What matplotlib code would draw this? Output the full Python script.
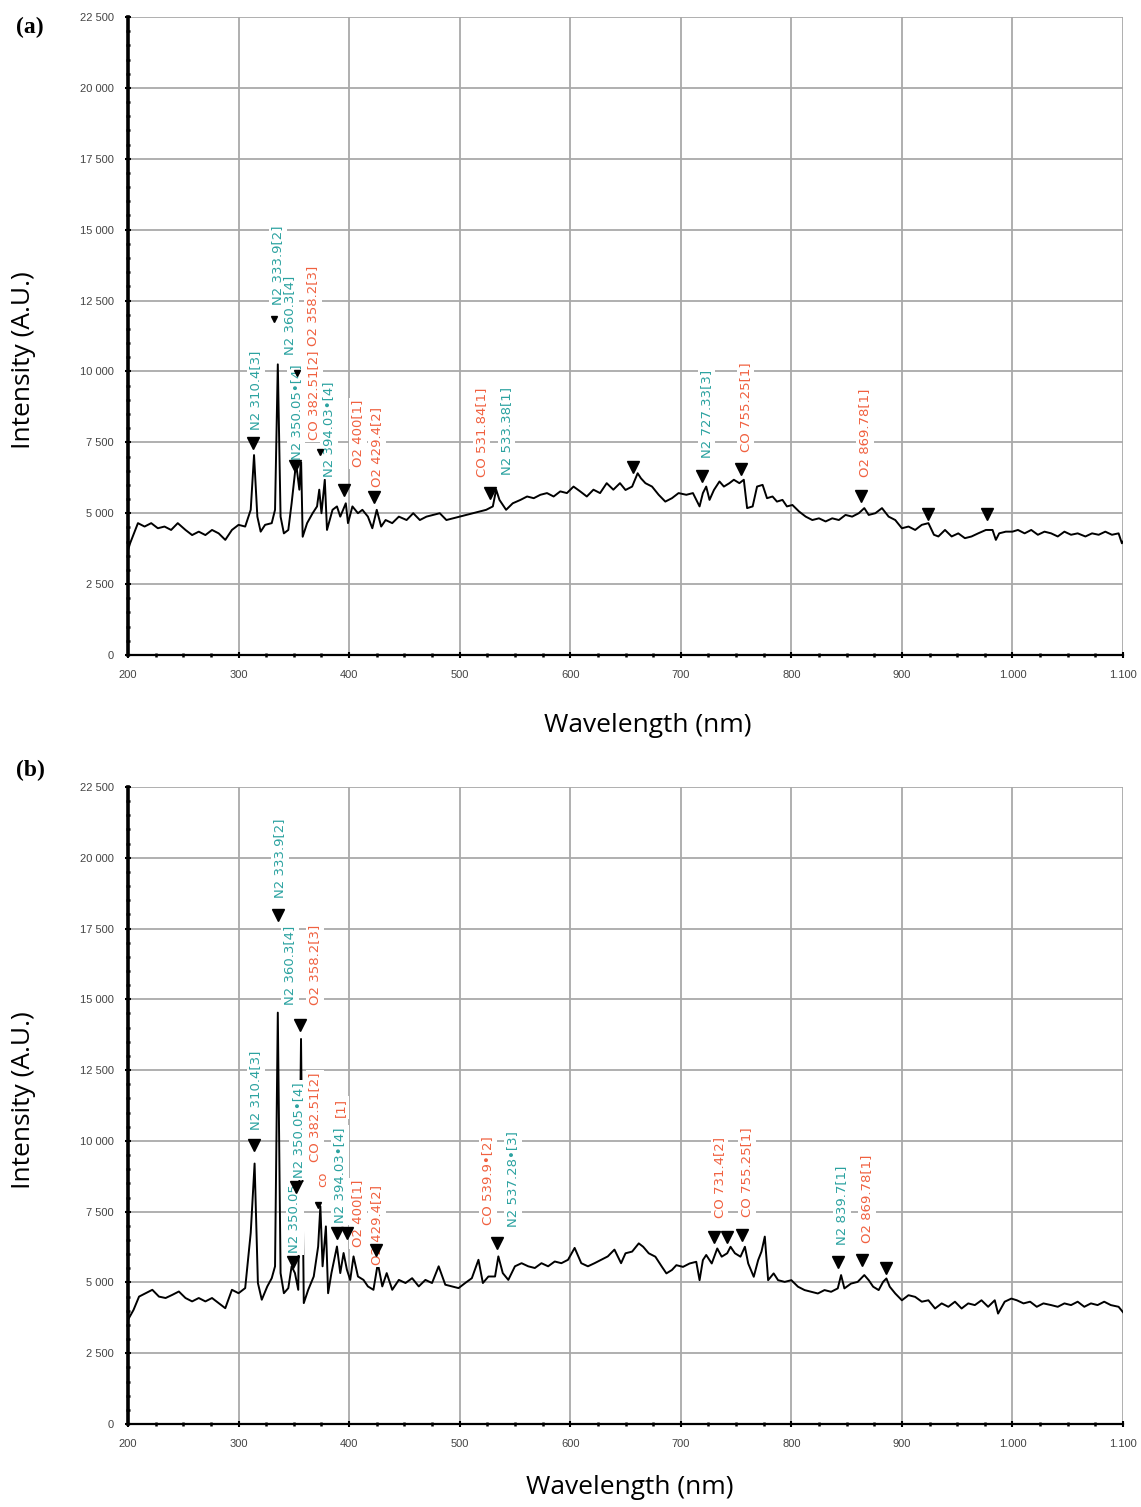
import matplotlib
matplotlib.use("Agg")
import matplotlib.pyplot as plt
from matplotlib.ticker import MultipleLocator, FuncFormatter

# ---- spectrum (a) ----
wl_a = [200, 202, 209, 215, 221, 227, 233, 239, 245, 252, 258, 264, 270, 276, 282, 288, 294, 300, 306, 311,
        314, 317, 320, 324, 330, 333, 335.5, 338, 341, 345, 348, 352, 355, 356.5, 358, 362, 367, 371, 373, 375,
        378, 380, 385, 389, 392, 397, 399, 403, 408, 412, 417, 421, 425, 429, 433, 439, 445, 452, 458, 464,
        470, 476, 482, 488, 494, 500, 506, 512, 518, 524, 530, 533, 536, 542, 548, 555, 561, 567, 573, 579,
        585, 591, 597, 603, 609, 615, 621, 627, 633, 639, 645, 650, 656, 661, 664, 668, 674, 680, 686, 692,
        698, 705, 711, 717, 720, 723, 726, 730, 735, 739, 744, 748, 753, 757, 760, 765, 769, 774, 778, 783,
        787, 792, 796, 801, 807, 813, 819, 825, 831, 837, 843, 849, 855, 861, 866, 870, 876, 882, 888, 894,
        900, 906, 912, 918, 924, 929, 933, 939, 945, 951, 957, 963, 969, 976, 982, 985, 988, 994, 1000, 1005,
        1011, 1017, 1023, 1029, 1035, 1041, 1047, 1053, 1059, 1066, 1072, 1078, 1084, 1090, 1096, 1099, 1100]
int_a = [3700, 3950, 4650, 4530, 4650, 4470, 4530, 4410, 4650, 4410, 4230, 4350, 4230, 4410, 4290, 4060, 4410, 4590, 4530, 5120,
         7050, 4880, 4350, 4590, 4650, 5120, 10250, 4880, 4290, 4410, 5350, 6770, 5830, 7000, 4170, 4650, 5000, 5240, 5830, 5000,
         6180, 4410, 5120, 5240, 4880, 5350, 4650, 5240, 5000, 5120, 4880, 4470, 5120, 4530, 4760, 4650, 4880, 4760, 5000, 4760,
         4880, 4940, 5000, 4760, 4820, 4880, 4940, 5000, 5060, 5120, 5240, 5830, 5470, 5120, 5350, 5470, 5590, 5530, 5650, 5710,
         5590, 5770, 5710, 5940, 5770, 5590, 5830, 5710, 6060, 5830, 6060, 5820, 5940, 6410, 6230, 6060, 5940, 5650, 5410, 5530,
         5710, 5650, 5710, 5240, 5710, 5940, 5470, 5820, 6120, 5940, 6060, 6180, 6060, 6180, 5180, 5240, 5940, 6000, 5530, 5590,
         5410, 5470, 5240, 5290, 5060, 4880, 4760, 4820, 4710, 4820, 4760, 4940, 4880, 5000, 5180, 4940, 5000, 5180, 4880, 4760,
         4470, 4530, 4410, 4590, 4650, 4240, 4180, 4410, 4180, 4290, 4120, 4180, 4290, 4410, 4410, 4060, 4290, 4350, 4350, 4410,
         4290, 4410, 4240, 4350, 4290, 4180, 4350, 4240, 4290, 4180, 4290, 4240, 4350, 4240, 4290, 3940, 4000]

# ---- spectrum (b) ----
wl_b = [200, 205, 210, 216, 222, 228, 234, 240, 246, 252, 258, 264, 270, 276, 282, 288, 294, 300, 306, 311,
        314.5, 317.5, 321, 326, 330, 333, 335.5, 338, 341, 345, 348, 351, 354, 356.5, 359, 363, 368, 372, 374, 376,
        379, 381, 384, 389, 392, 395, 398, 401, 404, 408, 413, 417, 422, 426, 430, 434, 439, 445, 451, 457,
        463, 469, 475, 481, 487, 493, 499, 505, 511, 517, 521, 526, 532, 535, 539, 544, 550, 556, 562, 568,
        574, 580, 586, 592, 598, 604, 610, 616, 622, 628, 634, 640, 646, 650, 656, 662, 666, 671, 677, 683,
        687, 692, 696, 702, 708, 714, 717, 720, 723, 728, 733, 737, 742, 745, 749, 754, 758, 761, 766, 770,
        773, 776, 779, 784, 788, 794, 800, 806, 812, 818, 824, 830, 836, 842, 845, 848, 854, 860, 866, 870,
        874, 879, 883, 886, 889, 894, 900, 906, 912, 918, 924, 930, 936, 942, 948, 954, 960, 966, 972, 978,
        984, 987, 993, 999, 1004, 1010, 1016, 1022, 1028, 1035, 1041, 1047, 1053, 1059, 1065, 1071, 1077, 1083, 1089, 1096, 1100]
int_b = [3680, 4030, 4500, 4620, 4740, 4500, 4450, 4560, 4680, 4450, 4330, 4450, 4330, 4450, 4270, 4090, 4740, 4620, 4800, 6750,
         9200, 4980, 4390, 4860, 5150, 5570, 14530, 5330, 4620, 4800, 5570, 5330, 4740, 13600, 4270, 4740, 5210, 6270, 7690, 5570,
         6980, 4620, 5330, 6270, 5330, 6040, 5450, 5090, 5920, 5210, 5090, 4860, 4740, 5680, 4860, 5330, 4740, 5090, 4980, 5150,
         4860, 5090, 4980, 5570, 4920, 4860, 4800, 4980, 5150, 5800, 4980, 5210, 5210, 5920, 5330, 5090, 5570, 5680, 5570, 5510,
         5680, 5570, 5740, 5680, 5800, 6220, 5680, 5570, 5680, 5800, 5920, 6160, 5680, 6030, 6090, 6380, 6260, 6030, 5910, 5550,
         5320, 5440, 5610, 5550, 5670, 5730, 5080, 5790, 5970, 5670, 6200, 5910, 6030, 6260, 6030, 5910, 6260, 5670, 5200, 5790,
         6090, 6620, 5080, 5320, 5080, 5020, 5080, 4850, 4730, 4670, 4610, 4730, 4670, 4790, 5260, 4790, 4960, 5020, 5260, 5080,
         4850, 4730, 5020, 5140, 4850, 4610, 4370, 4550, 4490, 4320, 4370, 4080, 4260, 4140, 4320, 4080, 4260, 4200, 4370, 4140,
         4370, 3900, 4320, 4430, 4370, 4260, 4320, 4140, 4260, 4200, 4140, 4260, 4200, 4320, 4140, 4260, 4200, 4320, 4200, 4140, 3950]

# peak markers (wavelength, intensity)
mk_a_wl = [313, 350.8, 395.8, 422.8, 527.7, 656.8, 719.2, 754.3, 862.9, 923.2, 977.2]
mk_a_val = [7480, 6670, 5820, 5580, 5720, 6620, 6310, 6550, 5610, 4970, 4970]
mk_a_small_wl = [331.9, 352.8, 373.3]
mk_a_small_val = [11840, 9945, 7170]

mk_b_wl = [336, 356, 314, 351.7, 349, 389, 398, 424, 533.8, 730.2, 742.2, 755.2, 842.2, 863.8, 885.7]
mk_b_val = [17980, 14090, 9855, 8380, 5730, 6735, 6735, 6150, 6380, 6615, 6615, 6675, 5735, 5790, 5500]
mk_b_small_wl = [372]
mk_b_small_val = [7740]

# line labels: text, species colour key, wavelength, intensity at text bottom
lab_a_text = ["N2 310.4[3]", "N2 333.9[2]", "N2 360.3[4]", "O2 358.2[3]", "CO 382.51[2]", "N2 350.05\u2022[4]",
              "N2 394.03\u2022[4]", "O2 400[1]", "O2 429.4[2]", "CO 531.84[1]", "N2 533.38[1]",
              "N2 727.33[3]", "CO 755.25[1]", "O2 869.78[1]"]
lab_a_col = ["t", "t", "t", "r", "r", "t", "t", "r", "r", "r", "t", "t", "r", "r"]
lab_a_wl = [315.8, 335.7, 346.5, 367.3, 368.2, 352.0, 381.8, 408.0, 425.2, 519.9, 542.4, 723.4, 758.6, 866.6]
lab_a_val = [7935, 12343, 10580, 10900, 7582, 6877, 6277, 6630, 5925, 6277, 6348, 6947, 7159, 6277]

lab_b_text = ["N2 333.9[2]", "N2 360.3[4]", "O2 358.2[3]", "N2 310.4[3]", "N2 350.05\u2022[4]", "CO 382.51[2]",
              "N2 350.05", "co", "[1]", "N2 394.03\u2022[4]", "O2 400[1]", "O2 429.4[2]", "CO 539.9\u2022[2]",
              "N2 537.28\u2022[3]", "CO 731.4[2]", "CO 755.25[1]", "N2 839.7[1]", "O2 869.78[1]"]
lab_b_col = ["t", "t", "r", "t", "t", "r", "t", "r", "r", "t", "r", "r", "r", "t", "r", "r", "t", "r"]
lab_b_wl = [337.5, 346.5, 369.1, 315.8, 353.8, 369.1, 351.0, 376.4, 391.7, 391.7, 408.0, 425.2, 525.6,
            548.2, 734.7, 759.9, 845.8, 868.4]
lab_b_val = [18580, 14800, 14800, 10385, 8690, 9255, 6040, 8372, 10844, 7100, 6252, 5616, 7029,
             6959, 7277, 7312, 6323, 6393]

colors = {"t": "#2ba2a0", "r": "#f0603f"}

W, H = 1141, 1507
fig = plt.figure(figsize=(W / 100, H / 100), dpi=100)
fig.patch.set_facecolor("white")


def ypos(px):
    return 1 - px / H


def make_panel(bottom_px, top_px, wl, inten, mwl, mval, swl, sval, ltxt, lcol, lwl, lval):
    ax = fig.add_axes([128 / W, ypos(bottom_px), 995 / W, (bottom_px - top_px) / H])
    ax.set_xlim(200, 1100)
    ax.set_ylim(0, 22500)
    ax.xaxis.set_major_locator(MultipleLocator(100))
    ax.xaxis.set_minor_locator(MultipleLocator(25))
    ax.yaxis.set_major_locator(MultipleLocator(2500))
    ax.yaxis.set_minor_locator(MultipleLocator(500))
    ax.xaxis.set_major_formatter(FuncFormatter(lambda v, p: f"{int(v):,}".replace(",", ".")))
    ax.yaxis.set_major_formatter(FuncFormatter(lambda v, p: f"{int(v):,}".replace(",", " ")))
    ax.grid(True, which="major", color="#a9a9a9", lw=1.3, zorder=0)
    ax.set_axisbelow(True)
    for s in ["top", "right"]:
        ax.spines[s].set_visible(False)
    ax.spines["left"].set_linewidth(2.6)
    ax.spines["bottom"].set_linewidth(1.6)
    ax.tick_params(which="major", direction="inout", length=4, width=1.5, color="black",
                   labelsize=8, labelcolor="#444444")
    ax.tick_params(which="minor", direction="inout", length=2.5, width=1.8, color="black")
    ax.tick_params(axis="y", pad=8)
    ax.tick_params(axis="x", pad=9)
    for lab in ax.get_xticklabels() + ax.get_yticklabels():
        lab.set_family("Liberation Sans")

    ax.plot(wl, inten, color="black", lw=1.4, zorder=3)
    ax.plot(mwl, mval, linestyle="none", marker="v", ms=8, color="black", zorder=5)
    ax.plot(swl, sval, linestyle="none", marker="v", ms=4, color="black", zorder=5)
    for t, c, x, y in zip(ltxt, lcol, lwl, lval):
        ax.text(x, y, t, rotation=90, ha="center", va="bottom", fontsize=9.5,
                family="DejaVu Sans", color=colors[c], zorder=4,
                bbox=dict(fc="white", ec="none", pad=1.5))
    return ax


make_panel(655, 17, wl_a, int_a, mk_a_wl, mk_a_val, mk_a_small_wl, mk_a_small_val,
           lab_a_text, lab_a_col, lab_a_wl, lab_a_val)
make_panel(1424, 787, wl_b, int_b, mk_b_wl, mk_b_val, mk_b_small_wl, mk_b_small_val,
           lab_b_text, lab_b_col, lab_b_wl, lab_b_val)

# panel letters and axis titles
fig.text(30 / W, ypos(27), "(a)", ha="center", va="center", fontsize=17, fontweight="bold", family="Liberation Serif")
fig.text(30 / W, ypos(770), "(b)", ha="center", va="center", fontsize=17, fontweight="bold", family="Liberation Serif")
fig.text(24 / W, ypos(360), "Intensity (A.U.)", rotation=90, ha="center", va="center", fontsize=19, family="Open Sans")
fig.text(24 / W, ypos(1100), "Intensity (A.U.)", rotation=90, ha="center", va="center", fontsize=19, family="Open Sans")
fig.text(648 / W, ypos(725), "Wavelength (nm)", ha="center", va="center", fontsize=19, family="Open Sans")
fig.text(630 / W, ypos(1488), "Wavelength (nm)", ha="center", va="center", fontsize=19, family="Open Sans")

fig.savefig("out.png", dpi=100)
